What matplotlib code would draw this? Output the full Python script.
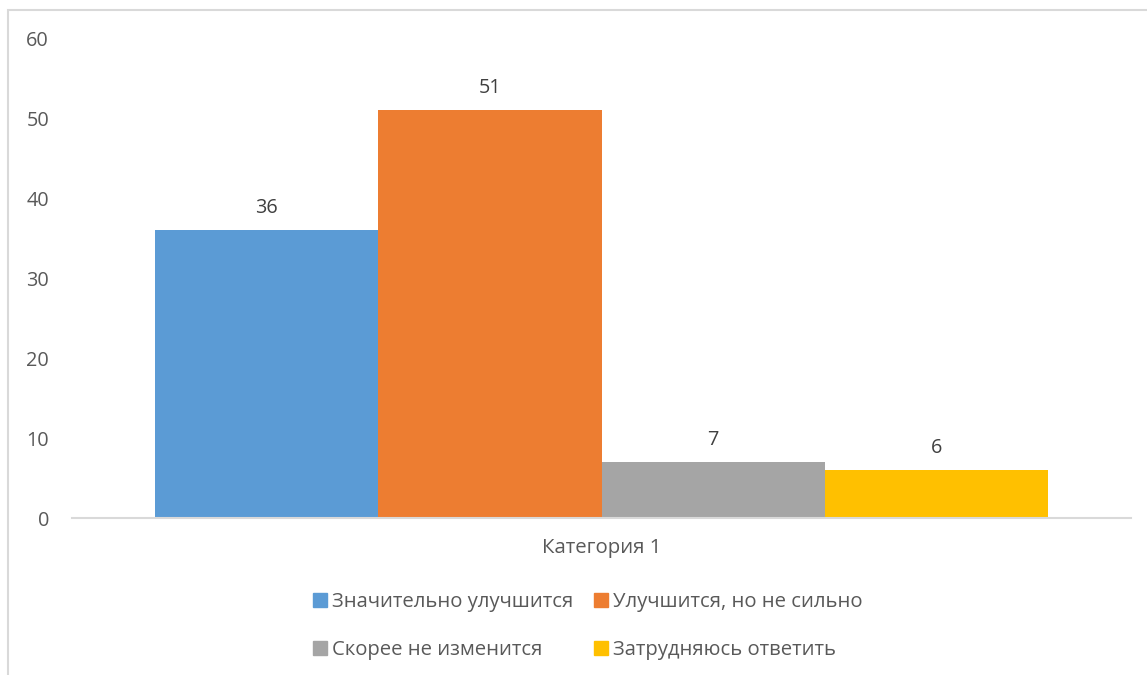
import matplotlib.pyplot as plt
from matplotlib.patches import Rectangle, Patch

# survey answers, one category
category = "Категория 1"
series_names = ["Значительно улучшится", "Улучшится, но не сильно",
                "Скорее не изменится", "Затрудняюсь ответить"]
values = [36, 51, 7, 6]
colors = ["#5b9bd5", "#ed7d31", "#a5a5a5", "#ffc000"]
yticks = [0, 10, 20, 30, 40, 50, 60]

plt.rcParams['font.family'] = ['Open Sans', 'DejaVu Sans']
txt = "#595959"

W, H = 1147, 675
fig = plt.figure(figsize=(W / 100, H / 100), dpi=100)
ax = fig.add_axes([72 / W, 1 - 518 / H, (1131 - 72) / W, (518 - 38) / H])

# light frame round the chart (runs off the right and bottom)
fig.patches.append(Rectangle((8 / W, -0.05), 1.2, 1 - 10 / H + 0.05,
                             transform=fig.transFigure, fill=False,
                             edgecolor="#d9d9d9", linewidth=1.5))

n = len(values)
group = 893 / 1059
bw = group / n
for i, (v, c) in enumerate(zip(values, colors)):
    x = -group / 2 + bw * (i + 0.5)
    ax.bar(x, v, width=bw, color=c, zorder=2)
    ax.annotate(str(v), (x, v), xytext=(0, 8.5), textcoords="offset points",
                ha="center", va="bottom", fontsize=14.3, color="#404040")

ax.set_xlim(-0.5, 0.5)
ax.set_ylim(0, 60)
ax.set_yticks(yticks)
ax.set_yticklabels([str(t) for t in yticks], fontsize=14.3, color=txt)
ax.set_xticks([0])
ax.set_xticklabels([category], fontsize=14.7, color=txt)
ax.tick_params(axis="both", length=0)
ax.tick_params(axis="y", pad=16.5)
ax.tick_params(axis="x", pad=14.5)
for s in ["top", "right", "left"]:
    ax.spines[s].set_visible(False)
ax.spines["bottom"].set_color("#d9d9d9")
ax.spines["bottom"].set_linewidth(1.5)
ax.spines["bottom"].set_zorder(3)

handles = [Patch(color=c) for c in colors]
order = [0, 2, 1, 3]
fig.legend([handles[i] for i in order], [series_names[i] for i in order],
           ncol=2, loc="center", bbox_to_anchor=(588 / W, 1 - 626 / H),
           frameon=False, fontsize=14.6, labelcolor=txt,
           handlelength=0.69, handleheight=0.69, handletextpad=0.25,
           labelspacing=1.36, columnspacing=1.03)

fig.savefig("out.png", dpi=100, facecolor="white")
